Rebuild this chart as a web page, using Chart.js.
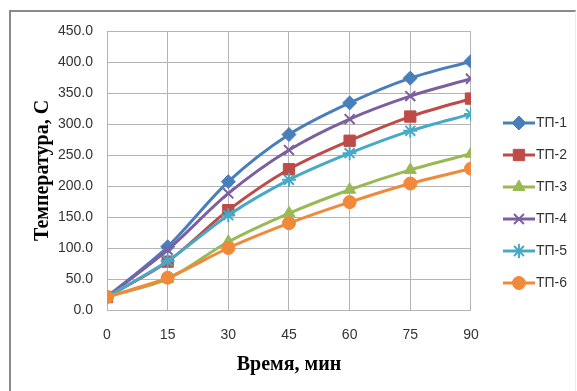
<!DOCTYPE html>
<html lang="ru">

<head>
    <meta charset="UTF-8">
    <title>Температура ТП</title>
    <script src="https://cdn.jsdelivr.net/npm/chart.js"></script>
    <style>
        body { margin: 0; background: #fff; }
        #wrap { position: relative; width: 577px; height: 391px; overflow: hidden; }
        #frame {
            position: absolute; left: 9px; top: 10px; width: 564px; height: 400px;
            border-top: 2px solid #8a8a8a; border-left: 2px solid #8a8a8a;
            border-right: 1px solid #ececec;
        }
        #chart { position: absolute; left: 0; top: 0; }
    </style>
</head>

<body>
    <div id="wrap">
        <div id="frame"></div>
        <canvas id="chart" width="577" height="391"></canvas>
    </div>
    <script>
        // время, мин
        const timeMin = [0, 15, 30, 45, 60, 75, 90];
        const yTicks = [0, 50, 100, 150, 200, 250, 300, 350, 400, 450];

        const tp1 = [21, 102, 207, 283, 334, 374, 401];
        const tp2 = [21, 78, 161, 227, 273, 312, 341];
        const tp3 = [21, 50, 110, 156, 194, 226, 252];
        const tp4 = [21, 97, 188, 258, 308, 345, 373];
        const tp5 = [21, 79, 153, 210, 253, 289, 316];
        const tp6 = [21, 52, 100, 140, 174, 204, 228];

        const seriesNames = ['ТП-1', 'ТП-2', 'ТП-3', 'ТП-4', 'ТП-5', 'ТП-6'];
        const seriesValues = [tp1, tp2, tp3, tp4, tp5, tp6];
        const colors = ['#4a7ebb', '#be4b48', '#98b954', '#7d5fa0', '#46aac5', '#f08a3a'];
        const markers = ['rectRot', 'rect', 'triangle', 'crossRot', 'star', 'circle'];
        const radii = [7, 8, 7, 7, 7, 6.5];

        // small icon for legend: line with marker in the middle (6px empty on the left)
        function makeLegendIcon(color, style, radius) {
            const c = document.createElement('canvas');
            c.width = 38;
            c.height = 18;
            const ctx = c.getContext('2d');
            ctx.strokeStyle = color;
            ctx.fillStyle = color;
            ctx.lineWidth = 3;
            ctx.beginPath();
            ctx.moveTo(6, 9);
            ctx.lineTo(38, 9);
            ctx.stroke();
            ctx.lineWidth = (style === 'crossRot' || style === 'star') ? 2 : 1;
            if (Chart.helpers && Chart.helpers.drawPoint) {
                Chart.helpers.drawPoint(ctx, { pointStyle: style, radius: radius, borderWidth: ctx.lineWidth, rotation: 0 }, 22, 9);
            } else {
                ctx.beginPath();
                ctx.arc(22, 9, radius, 0, Math.PI * 2);
                ctx.fill();
            }
            return c;
        }

        const datasets = seriesNames.map((name, i) => ({
            label: name,
            data: timeMin.map((t, j) => ({ x: t, y: seriesValues[i][j] })),
            borderColor: colors[i],
            backgroundColor: colors[i],
            borderWidth: 3,
            tension: 0.3,
            pointStyle: markers[i],
            pointRadius: radii[i],
            pointHoverRadius: radii[i],
            pointBorderWidth: (markers[i] === 'crossRot' || markers[i] === 'star') ? 2 : 1,
            order: seriesNames.length - i,
            legendIcon: makeLegendIcon(colors[i], markers[i], radii[i])
        }));

        const tickFont = { family: 'Liberation Sans', size: 14 };
        const titleFont = { family: 'Liberation Serif', size: 20, weight: 'bold' };
        const gridColor = '#b4b4b4';

        new Chart(document.getElementById('chart'), {
            type: 'line',
            data: { datasets: datasets },
            options: {
                responsive: false,
                devicePixelRatio: 1,
                animation: false,
                layout: { padding: { top: 15, right: 0, bottom: 0, left: 0 } },
                plugins: {
                    tooltip: { enabled: false },
                    legend: {
                        position: 'right',
                        labels: {
                            usePointStyle: true,
                            pointStyleWidth: 26,
                            boxHeight: 14,
                            padding: 18,
                            color: '#333',
                            font: { family: 'Liberation Sans', size: 14 },
                            sort: (a, b) => a.datasetIndex - b.datasetIndex,
                            generateLabels: (chart) => chart.data.datasets.map((ds, i) => ({
                                text: ds.label,
                                datasetIndex: i,
                                pointStyle: ds.legendIcon,
                                fillStyle: ds.borderColor,
                                strokeStyle: ds.borderColor,
                                lineWidth: 0,
                                fontColor: '#333'
                            }))
                        }
                    }
                },
                scales: {
                    x: {
                        type: 'linear',
                        min: 0,
                        max: 90,
                        afterBuildTicks: (s) => { s.ticks = timeMin.map(v => ({ value: v })); },
                        afterFit: (s) => { s.height = 81; },
                        grid: { color: gridColor, drawTicks: false },
                        border: { color: gridColor },
                        ticks: { font: tickFont, color: '#333', padding: 17, maxRotation: 0 },
                        title: {
                            display: true,
                            text: 'Время, мин',
                            font: titleFont,
                            color: '#000',
                            padding: { top: 0, bottom: 14 }
                        }
                    },
                    y: {
                        min: 0,
                        max: 450,
                        afterBuildTicks: (s) => { s.ticks = yTicks.map(v => ({ value: v })); },
                        afterFit: (s) => { s.width = 107; },
                        grid: { color: gridColor, drawTicks: false },
                        border: { color: gridColor },
                        ticks: {
                            font: tickFont,
                            color: '#333',
                            padding: 14,
                            callback: (v) => Number(v).toFixed(1)
                        },
                        title: {
                            display: true,
                            text: 'Температура, С',
                            font: titleFont,
                            color: '#000',
                            padding: { top: 31, bottom: 0 }
                        }
                    },
                    // empty spacer axes to place the plot area like the original
                    xTop: {
                        type: 'linear',
                        position: 'top',
                        display: true,
                        grid: { display: false },
                        border: { display: false },
                        ticks: { display: false },
                        afterFit: (s) => { s.height = 16; }
                    },
                    yRight: {
                        type: 'linear',
                        position: 'right',
                        display: true,
                        grid: { display: false },
                        border: { display: false },
                        ticks: { display: false },
                        afterFit: (s) => { s.width = 14; }
                    }
                }
            }
        });
    </script>
</body>

</html>
